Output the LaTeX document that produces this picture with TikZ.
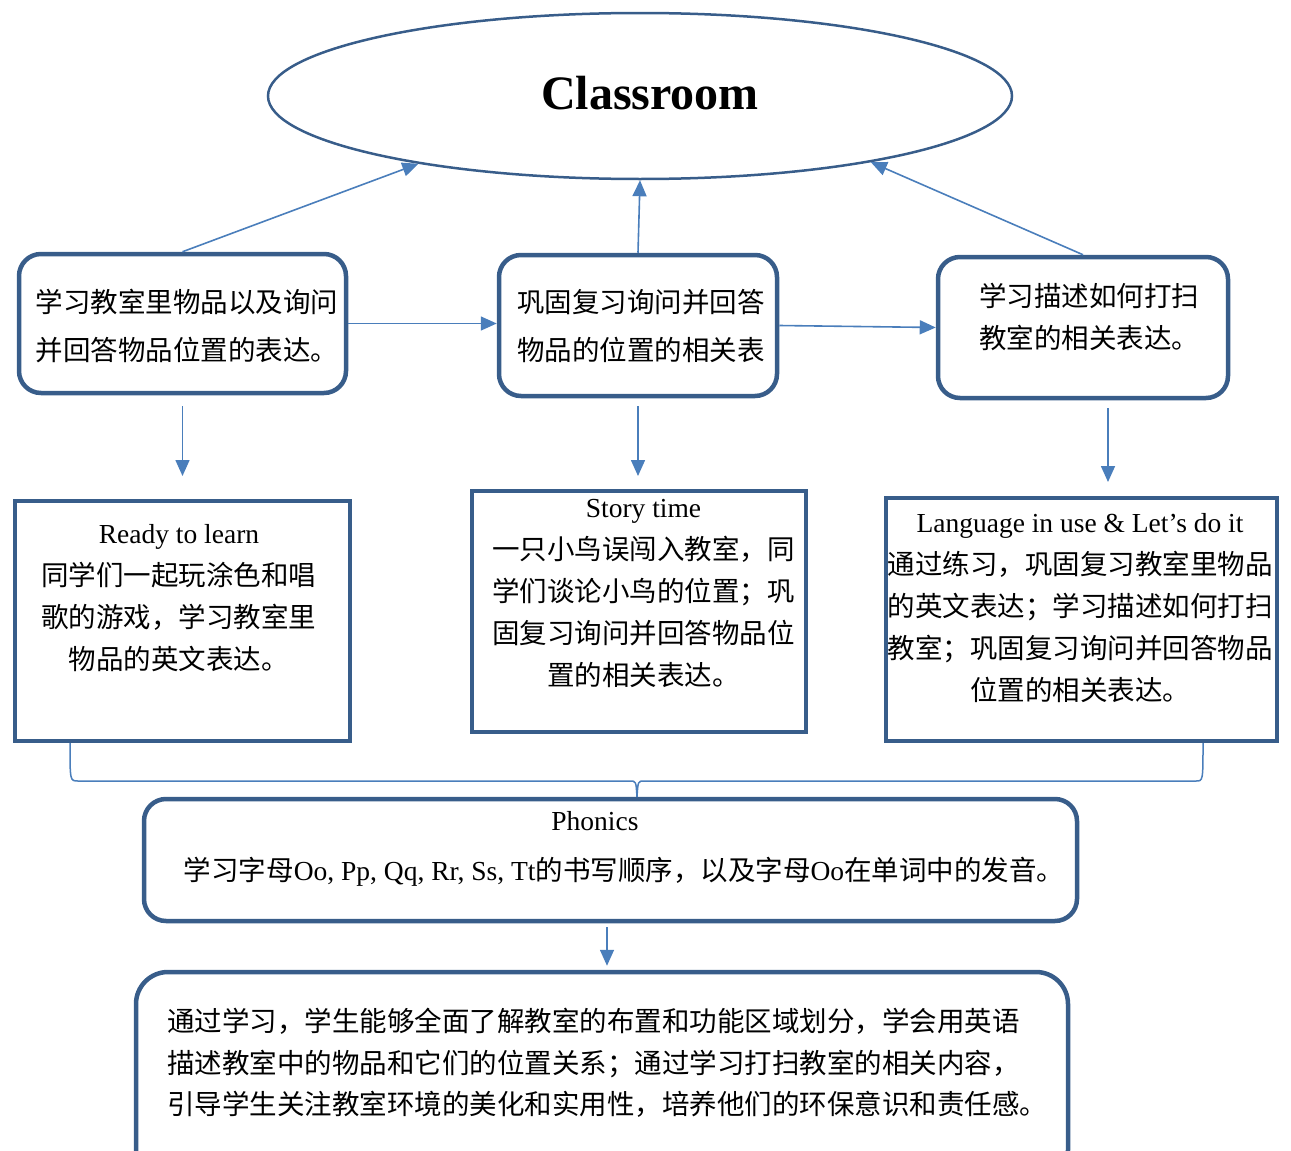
\documentclass[tikz,border=0pt]{standalone}
\usepackage{fontspec}
\setmainfont{Liberation Serif}
\newfontfamily\cjk{Noto Sans CJK SC}
\usetikzlibrary{shapes.geometric,arrows.meta}
\definecolor{boxblue}{HTML}{385D8A}
\definecolor{lineblue}{HTML}{4A7EBB}
\newcommand{\en}[1]{{\rmfamily #1}}
\tikzset{
  rbox/.style={draw=boxblue, line width=4.5pt, rounded corners=22pt, inner sep=0pt},
  sbox/.style={draw=boxblue, line width=4pt, inner sep=0pt},
  txt/.style={align=center, inner sep=0pt, font=\fontsize{27.5}{42}\selectfont\cjk},
  arr/.style={draw=lineblue, line width=1.6pt, -{Triangle[length=16pt,width=14pt]}},
  brace/.style={draw=lineblue, line width=1.5pt},
}
\begin{document}
\begin{tikzpicture}[x=1pt, y=-1pt]
    \useasboundingbox (0,0) rectangle (1291,1151);

    % 主题
    \node[ellipse, draw=boxblue, line width=2.5pt, minimum width=744pt, minimum height=166pt, inner sep=0pt] (title) at (640,96) {};
    \node[font=\fontsize{48}{56}\selectfont\bfseries] at (650,93) {Classroom};

    % 目标
    \node[rbox, minimum width=327pt, minimum height=139pt] (aim1) at (182.5,323.5) {};
    \node[rbox, minimum width=278pt, minimum height=141pt] (aim2) at (638,325.5) {};
    \node[rbox, minimum width=290pt, minimum height=141pt] (aim3) at (1083,327.5) {};
    \node[txt, font=\fontsize{27.5}{48}\selectfont\cjk] at (187,326) {学习教室里物品以及询问\\并回答物品位置的表达。};
    \node[txt, font=\fontsize{27.5}{48}\selectfont\cjk] at (641,326) {巩固复习询问并回答\\物品的位置的相关表};
    \node[txt] at (1089,317) {学习描述如何打扫\\教室的相关表达。};

    % 活动
    \node[sbox, minimum width=335pt, minimum height=240pt] (act1) at (182.5,621) {};
    \node[sbox, minimum width=334pt, minimum height=241pt] (act2) at (639,611.5) {};
    \node[sbox, minimum width=391pt, minimum height=243pt] (act3) at (1081.5,619.5) {};
    \node[txt] at (179,598.5) {\en{Ready to learn}\\同学们一起玩涂色和唱\\歌的游戏，学习教室里\\物品的英文表达。};
    \node[txt] at (643.5,593.5) {\en{Story time}\\一只小鸟误闯入教室，同\\学们谈论小鸟的位置；巩\\固复习询问并回答物品位\\置的相关表达。};
    \node[txt] at (1080,608) {\en{Language in use \& Let’s do it}\\通过练习，巩固复习教室里物品\\的英文表达；学习描述如何打扫\\教室；巩固复习询问并回答物品\\位置的相关表达。};

    % Phonics
    \node[rbox, minimum width=933pt, minimum height=122pt] (phon) at (610.5,860) {};
    \node[txt] at (595,821) {\en{Phonics}};
    \node[txt] at (624,872) {学习字母\en{Oo, Pp, Qq, Rr, Ss, Tt}的书写顺序，以及字母\en{Oo}在单词中的发音。};

    % 总结
    \node[rbox, rounded corners=32pt, minimum width=932pt, minimum height=210pt] (summ) at (602,1077) {};
    \node[txt, align=left, anchor=west, font=\fontsize{27.5}{41.5}\selectfont\cjk] at (167,1063) {通过学习，学生能够全面了解教室的布置和功能区域划分，学会用英语\\描述教室中的物品和它们的位置关系；通过学习打扫教室的相关内容，\\引导学生关注教室环境的美化和实用性，培养他们的环保意识和责任感。};

    % 箭头
    \draw[arr] (aim1.north) -- (title.197);
    \draw[arr] (aim2.north) -- (title.south);
    \draw[arr] (aim3.north) -- (title.344);
    \draw[arr] (aim1.east) -- (aim1.east -| aim2.west);
    \draw[arr] (aim2.east) -- (aim3.west);
    \draw[arr, shorten <=11pt, shorten >=23pt] (aim1.south) -- (act1.north);
    \draw[arr, shorten <=8pt, shorten >=13pt] (aim2.south) -- (aim2.south |- act2.north);
    \draw[arr, shorten <=8pt, shorten >=14pt] ([xshift=25pt]aim3.south) -- ([xshift=25pt]aim3.south |- act3.north);
    \draw[arr, shorten <=4pt, shorten >=4pt] ([xshift=-3.5pt]phon.south) -- ([xshift=-3.5pt]phon.south |- summ.north);

    % 大括号
    \coordinate (tip) at (637,797);
    \draw[brace] (70,743) .. controls (70,781) .. (78,781) -- (630,781) .. controls (636,781) .. (tip);
    \draw[brace] (1203,743) .. controls (1203,781) .. (1196,781) -- (644,781) .. controls (638,781) .. (tip);
\end{tikzpicture}
\end{document}
